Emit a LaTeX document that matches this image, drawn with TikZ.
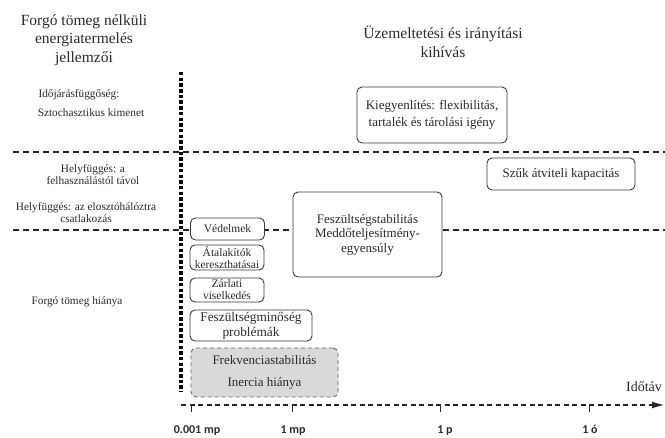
\documentclass[tikz,border=0pt]{standalone}
\usepackage{fontspec}
\setmainfont{Liberation Serif}
\newfontfamily\axisfont{Carlito}
\usetikzlibrary{arrows.meta}
\definecolor{txt}{HTML}{2E2A28}
\definecolor{boxc}{HTML}{3A3A3A}
\definecolor{grayfill}{HTML}{D9D9D9}
\begin{document}
\begin{tikzpicture}[x=1pt,y=-1pt,
  box/.style={draw=boxc,line width=0.9pt,rounded corners=5pt,fill=white,align=center,inner sep=0pt,text=txt},
  smallbox/.style={box,minimum width=74pt,font=\fontsize{11.5}{12}\selectfont},
  lbl/.style={align=center,inner sep=0pt,text=txt,font=\fontsize{11.3}{12}\selectfont},
  ttl/.style={align=center,inner sep=0pt,text=txt,font=\fontsize{15.5}{18.5}\selectfont},
  sepline/.style={draw=black!85,line width=1.1pt,dash pattern=on 6pt off 4pt},
  axisline/.style={draw=black!85,line width=1.1pt,dash pattern=on 5pt off 3.5pt},
  tick/.style={draw=black!85,line width=1pt},
  axlbl/.style={inner sep=0pt,anchor=base,text=txt,font=\axisfont\bfseries\fontsize{12}{12}\selectfont}
]
\fill[white] (0,0) rectangle (665,438);
\useasboundingbox (0,0) rectangle (665,438);

% horizontal separators
\coordinate (s1a) at (13,152); \coordinate (s1b) at (665,152);
\coordinate (s2a) at (13,230); \coordinate (s2b) at (665,230);
\draw[sepline] (s1a) -- (s1b);
\draw[sepline] (s2a) -- (s2b);

% titles
\node[ttl] (tleft) at (84,40) {Forgó tömeg nélküli\\energiatermelés\\jellemzői};
\node[ttl] (tright) at (443,42) {Üzemeltetési és irányítási\\kihívás};

% left labels
\node[lbl] (l1) at (79,95) {Időjárásfüggőség:};
\node[lbl] (l2) at (91,113) {Sztochasztikus kimenet};
\node[lbl] (l3) at (93,175) {Helyfüggés: a\\felhasználástól távol};
\node[lbl] (l4) at (86,213) {Helyfüggés: az elosztóhálóztra\\csatlakozás};
\node[lbl] (l5) at (77,302) {Forgó tömeg hiánya};

% boxes
\node[box,minimum width=150pt,minimum height=56pt,font=\fontsize{13}{17}\selectfont] (kieg) at (432,115) {Kiegyenlítés: flexibilitás,\\tartalék és tárolási igény};
\node[box,minimum width=148pt,minimum height=32pt,font=\fontsize{13}{15}\selectfont] (szuk) at (561,174) {Szűk átviteli kapacitás};
\node[box,minimum width=149pt,minimum height=85pt,font=\fontsize{13}{14.5}\selectfont] (fesz) at (367.5,234.5) {Feszültségstabilitás\\Meddőteljesítmény-\\egyensúly};
\node[smallbox,minimum height=22pt] (vedel) at (227.5,229) {Védelmek};
\node[smallbox,minimum height=25pt] (atal) at (227,257.5) {Átalakítók\\kereszthatásai};
\node[smallbox,minimum height=24pt] (zarl) at (227,290) {Zárlati\\viselkedés};
\node[box,minimum width=122pt,minimum height=31pt,font=\fontsize{13.3}{15}\selectfont] (fmin) at (251,325.5) {Feszültségminőség\\problémák};
\node[box,fill=grayfill,draw=black!60,dash pattern=on 4pt off 3pt,minimum width=147pt,minimum height=49pt,font=\fontsize{13}{22}\selectfont] (frek) at (264.5,372.5) {Frekvenciastabilitás\\Inercia hiánya};

% vertical dotted divider
\coordinate (vtop) at (181,72); \coordinate (vbot) at (181,392);
\draw[line width=3.5pt,draw=black,dash pattern=on 3.5pt off 2.2pt] (vtop) -- (vbot);

% time axis
\coordinate (axS) at (181,405); \coordinate (axE) at (664,405);
\draw[axisline,-{Latex[length=12pt,width=7pt]}] (axS) -- (axE);
\coordinate (k1) at (191,405); \coordinate (k1e) at (191,412);
\coordinate (k2) at (292,405); \coordinate (k2e) at (292,412);
\coordinate (k3) at (440,405); \coordinate (k3e) at (440,412);
\coordinate (k4) at (589,405); \coordinate (k4e) at (589,412);
\draw[tick] (k1) -- (k1e);
\draw[tick] (k2) -- (k2e);
\draw[tick] (k3) -- (k3e);
\draw[tick] (k4) -- (k4e);
\node[axlbl] (a1) at (197,433.5) {0.001 mp};
\node[axlbl] (a2) at (293,433.5) {1 mp};
\node[axlbl] (a3) at (445,433.5) {1 p};
\node[axlbl] (a4) at (590,433.5) {1 ó};
\node[inner sep=0pt,text=txt,font=\fontsize{14}{14}\selectfont] (idotav) at (644,387) {Időtáv};
\end{tikzpicture}
\end{document}
